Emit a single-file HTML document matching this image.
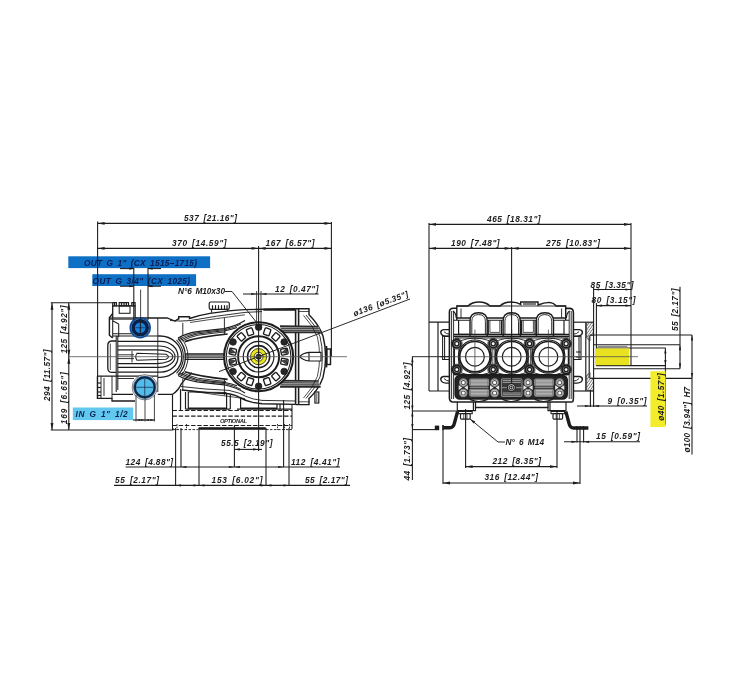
<!DOCTYPE html>
<html><head><meta charset="utf-8"><title>CX pump dimensions</title>
<style>
html,body{margin:0;padding:0;background:#fff;}
body{width:750px;height:700px;overflow:hidden;}
svg{display:block;filter:blur(0.45px);}
svg text{font-family:"Liberation Sans",sans-serif;font-style:italic;word-spacing:1.6px;}
</style></head><body>
<svg width="750" height="700" viewBox="0 0 750 700">
<rect x="0" y="0" width="750" height="700" fill="#ffffff"/>
<line x1="172.5" y1="410.5" x2="292" y2="410.5" stroke="#1c1c1c" stroke-width="1.17" stroke-dasharray="4.4 1.8"/>
<line x1="172.5" y1="416.1" x2="292" y2="416.1" stroke="#1c1c1c" stroke-width="1.17" stroke-dasharray="4.4 1.8"/>
<line x1="172.5" y1="425.5" x2="292" y2="425.5" stroke="#1c1c1c" stroke-width="1.17" stroke-dasharray="4.4 1.8"/>
<line x1="172.5" y1="394" x2="172.5" y2="430" stroke="#1c1c1c" stroke-width="1.04" />
<line x1="292" y1="404" x2="292" y2="429" stroke="#1c1c1c" stroke-width="1.04" />
<rect x="198.6" y="427.2" width="67.2" height="2.6" rx="0" stroke="none" stroke-width="0.00" fill="#1c1c1c" />
<line x1="177" y1="424" x2="177" y2="430" stroke="#1c1c1c" stroke-width="0.91" stroke-dasharray="1.6 1"/>
<line x1="186.5" y1="424" x2="186.5" y2="430" stroke="#1c1c1c" stroke-width="0.91" stroke-dasharray="1.6 1"/>
<line x1="277.5" y1="424" x2="277.5" y2="430" stroke="#1c1c1c" stroke-width="0.91" stroke-dasharray="1.6 1"/>
<line x1="284.5" y1="424" x2="284.5" y2="430" stroke="#1c1c1c" stroke-width="0.91" stroke-dasharray="1.6 1"/>
<line x1="289.5" y1="424" x2="289.5" y2="430" stroke="#1c1c1c" stroke-width="0.91" stroke-dasharray="1.6 1"/>
<line x1="172.5" y1="429.6" x2="198" y2="429.6" stroke="#1c1c1c" stroke-width="0.91" stroke-dasharray="2.5 1.5"/>
<line x1="266" y1="429.6" x2="292" y2="429.6" stroke="#1c1c1c" stroke-width="0.91" stroke-dasharray="2.5 1.5"/>
<text x="220" y="422.8" font-size="5.8" fill="#1c1c1c" text-anchor="start" font-weight="bold" textLength="27" lengthAdjust="spacing" >OPTIONAL</text>
<path d="M172.5,394 L172.5,410.5 M180.5,389.5 L180.5,410.5 M185.5,392 L185.5,409 M188.3,392 L188.3,408 L226.6,408 L226.6,394 M185.5,409.2 L230.3,409.2 M230.3,395 L230.3,409 M240.6,398 L240.6,408 L277,408 L277,404 M237,409.2 L292,409.2 M280,404 L280,409" stroke="#1c1c1c" stroke-width="1.17" fill="none" />
<path d="M188.3,392 L226.6,392.5" stroke="#1c1c1c" stroke-width="0.91" fill="none" />
<path d="M178.7,319.5 L178.7,316.8 L189.5,316.8 L189.5,318.5 Q200,315 210,313.4 Q230,310.4 245,309.6 L295.6,308.8" stroke="#1c1c1c" stroke-width="1.43" fill="none" />
<path d="M170,320.5 Q180,321.6 190,320.6 Q215,316 245,312.4 L262,311.6" stroke="#1c1c1c" stroke-width="0.91" fill="none" />
<path d="M181.8,390 Q205,393 228.5,393.7 Q236,395 239.7,397.5 Q246,401 252.7,402.4 L262,403.8 L295.7,404.4" stroke="#1c1c1c" stroke-width="1.43" fill="none" />
<path d="M181,386.5 Q205,389.5 229,390.4 Q240,392.6 246,396.4 Q252,399.4 262,400.4 L295,401" stroke="#1c1c1c" stroke-width="0.91" fill="none" />
<path d="M178,338.0 Q186,333.5 197,331.6 Q215,329.6 224,328.6 Q236,326.0 245,320.5" stroke="#1c1c1c" stroke-width="1.17" fill="none" />
<path d="M180,340.4 Q188,336.0 197,334.0 Q215,331.8 225,330.8 Q232,329.6 237,327.6" stroke="#1c1c1c" stroke-width="1.04" fill="none" />
<path d="M184.8,341.6 Q200,336.6 227.6,334.0" stroke="#1c1c1c" stroke-width="1.69" fill="none" />
<path d="M179,339.2 Q187,334.8 197,332.8 Q215,330.7 225,329.7 Q234,328.0 241,324.0" stroke="#1c1c1c" stroke-width="0.91" fill="none" />
<path d="M182,341.0 Q190,337.0 198,335.2 Q215,332.9 226,331.9" stroke="#1c1c1c" stroke-width="0.91" fill="none" />
<path d="M182.8,322.8 L182.8,335.0 M224.4,318.0 L224.4,335.0" stroke="#1c1c1c" stroke-width="0.91" fill="none" />
<path d="M190,322.5 Q215,318.6 245,314.8" stroke="#1c1c1c" stroke-width="0.78" fill="none" />
<path d="M178,375.4 Q186,379.9 197,381.79999999999995 Q215,383.79999999999995 224,384.79999999999995 Q236,387.4 245,392.9" stroke="#1c1c1c" stroke-width="1.17" fill="none" />
<path d="M180,373.0 Q188,377.4 197,379.4 Q215,381.59999999999997 225,382.59999999999997 Q232,383.79999999999995 237,385.79999999999995" stroke="#1c1c1c" stroke-width="1.04" fill="none" />
<path d="M184.8,371.79999999999995 Q200,376.79999999999995 227.6,379.4" stroke="#1c1c1c" stroke-width="1.69" fill="none" />
<path d="M179,374.2 Q187,378.59999999999997 197,380.59999999999997 Q215,382.7 225,383.7 Q234,385.4 241,389.4" stroke="#1c1c1c" stroke-width="0.91" fill="none" />
<path d="M182,372.4 Q190,376.4 198,378.2 Q215,380.5 226,381.5" stroke="#1c1c1c" stroke-width="0.91" fill="none" />
<path d="M182.8,390.59999999999997 L182.8,378.4 M224.4,395.4 L224.4,378.4" stroke="#1c1c1c" stroke-width="0.91" fill="none" />
<path d="M190,390.9 Q215,394.79999999999995 245,398.59999999999997" stroke="#1c1c1c" stroke-width="0.78" fill="none" />
<line x1="184.8" y1="354" x2="224" y2="354" stroke="#1c1c1c" stroke-width="1.43" />
<line x1="184.8" y1="359.4" x2="224" y2="359.4" stroke="#1c1c1c" stroke-width="1.43" />
<line x1="184.8" y1="355.8" x2="224" y2="355.8" stroke="#1c1c1c" stroke-width="0.78" />
<line x1="184.8" y1="357.6" x2="224" y2="357.6" stroke="#1c1c1c" stroke-width="0.78" />
<path d="M178,338.5 Q185.4,346 185.4,356.7 Q185.4,367.4 178,374.9" stroke="#1c1c1c" stroke-width="1.30" fill="none" />
<path d="M176.5,340 Q183.4,347 183.4,356.7 Q183.4,366.4 176.5,373.4" stroke="#1c1c1c" stroke-width="1.04" fill="none" />
<path d="M180.5,337 Q188,346 188,356.7 Q188,367.4 180.5,376.4" stroke="#1c1c1c" stroke-width="0.91" fill="none" />
<path d="M295.6,308.8 L295.6,404.6 M298.6,309 L298.6,404.6" stroke="#1c1c1c" stroke-width="1.56" fill="none" />
<path d="M295.6,308.8 L309,308.8 L309,314.8 Q318.5,324 323,336 Q325.6,346 325.6,356.7 Q325.6,367.4 323,377.4 Q318.5,389.6 309,398.6 L309,404.6 L295.6,404.6" stroke="#1c1c1c" stroke-width="1.43" fill="none" />
<path d="M306,315 Q315.5,325 320,336.6 Q322.4,346 322.4,356.7 Q322.4,367.4 320,376.8 Q315.5,388.4 306,398.4" stroke="#1c1c1c" stroke-width="0.91" fill="none" />
<path d="M298.6,311.5 L309,311.5 M298.6,401.8 L309,401.8" stroke="#1c1c1c" stroke-width="0.78" fill="none" />
<polygon points="280,326.2 318.6,326.59999999999997 320.6,332.4 280,332.4" fill="#b5b5b5"/>
<path d="M280,326.2 L318.6,326.59999999999997 M280,332.4 L320.6,332.4" stroke="#2a2a2a" stroke-width="1.69" fill="none" />
<path d="M281,328.3 L318.8,328.59999999999997 M281,330.4 L319.6,330.5" stroke="#4a4a4a" stroke-width="1.17" fill="none" />
<polygon points="280,380.6 318.6,381.0 320.6,386.8 280,386.8" fill="#b5b5b5"/>
<path d="M280,380.6 L318.6,381.0 M280,386.8 L320.6,386.8" stroke="#2a2a2a" stroke-width="1.69" fill="none" />
<path d="M281,382.70000000000005 L318.8,383.0 M281,384.8 L319.6,384.90000000000003" stroke="#4a4a4a" stroke-width="1.17" fill="none" />
<path d="M303.5,315.4 Q313,325.6 317.4,337 Q319.6,346.4 319.6,356.7 Q319.6,367 317.4,376.4 Q313,388 303.5,398" stroke="#1c1c1c" stroke-width="0.78" fill="none" />
<rect x="314.9" y="392" width="3.9" height="11" rx="0" stroke="#1c1c1c" stroke-width="1.17" fill="#fff" />
<line x1="316.8" y1="393" x2="316.8" y2="402" stroke="#1c1c1c" stroke-width="0.78" />
<rect x="326.8" y="349" width="3.7" height="15.5" rx="0" stroke="#1c1c1c" stroke-width="1.43" fill="#fff" />
<line x1="326.4" y1="346" x2="326.4" y2="367.4" stroke="#1c1c1c" stroke-width="1.82" />
<path d="M299.6,356.7 Q303,353 309,352.4 L321,352.4 L321,361 L309,361 Q303,360.4 299.6,356.7 Z M309,352.4 L309,361" stroke="#1c1c1c" stroke-width="1.17" fill="#fff" />
<path d="M263.4,309.6 L295.6,309.6" stroke="#1c1c1c" stroke-width="2.08" fill="none" />
<rect x="209.2" y="302" width="20.1" height="7.4" rx="1.6" stroke="#1c1c1c" stroke-width="1.17" fill="#fff" />
<line x1="212.5" y1="305.2" x2="212.5" y2="309.2" stroke="#1c1c1c" stroke-width="1.17" />
<line x1="215.5" y1="305.2" x2="215.5" y2="309.2" stroke="#1c1c1c" stroke-width="1.17" />
<line x1="218.5" y1="305.2" x2="218.5" y2="309.2" stroke="#1c1c1c" stroke-width="1.17" />
<line x1="221.5" y1="305.2" x2="221.5" y2="309.2" stroke="#1c1c1c" stroke-width="1.17" />
<line x1="224.5" y1="305.2" x2="224.5" y2="309.2" stroke="#1c1c1c" stroke-width="1.17" />
<line x1="227" y1="305.2" x2="227" y2="309.2" stroke="#1c1c1c" stroke-width="1.17" />
<path d="M211.6,309.4 L211.6,312.8 M227.7,309.4 L227.7,311.2" stroke="#1c1c1c" stroke-width="1.04" fill="none" />
<circle cx="258.6" cy="356.7" r="34.5" stroke="#1c1c1c" stroke-width="2.08" fill="#fff" />
<circle cx="258.6" cy="356.7" r="32.3" stroke="#1c1c1c" stroke-width="1.04" fill="none" />
<circle cx="258.6" cy="356.7" r="20.5" stroke="#1c1c1c" stroke-width="1.95" fill="none" />
<circle cx="258.6" cy="356.7" r="15.3" stroke="#1c1c1c" stroke-width="1.17" fill="none" />
<circle cx="258.6" cy="356.7" r="11.1" stroke="#1c1c1c" stroke-width="1.56" fill="none" />
<rect x="-3.0" y="-3.4" width="6.0" height="6.8" rx="1" fill="#fff" stroke="#1c1c1c" stroke-width="1.35" transform="translate(284.42 361.72) rotate(101.0)"/>
<path d="M2.4,-2.6 L-2.0,-2.2 L-0.4,2.8 Z" fill="#444" stroke="#1c1c1c" stroke-width="0.7" transform="translate(284.42 361.72) rotate(101.0)"/>
<rect x="-3.0" y="-3.4" width="6.0" height="6.8" rx="1" fill="#fff" stroke="#1c1c1c" stroke-width="1.35" transform="translate(284.42 351.68) rotate(79.0)"/>
<path d="M-2.4,-2.6 L2.0,-2.2 L0.4,2.8 Z" fill="#444" stroke="#1c1c1c" stroke-width="0.7" transform="translate(284.42 351.68) rotate(79.0)"/>
<rect x="-3.0" y="-3.4" width="6.0" height="6.8" rx="1" fill="#fff" stroke="#1c1c1c" stroke-width="1.35" transform="translate(275.85 336.85) rotate(41.0)"/>
<rect x="-3.0" y="-3.4" width="6.0" height="6.8" rx="1" fill="#fff" stroke="#1c1c1c" stroke-width="1.35" transform="translate(267.16 331.83) rotate(19.0)"/>
<rect x="-3.0" y="-3.4" width="6.0" height="6.8" rx="1" fill="#fff" stroke="#1c1c1c" stroke-width="1.35" transform="translate(250.04 331.83) rotate(-19.0)"/>
<rect x="-3.0" y="-3.4" width="6.0" height="6.8" rx="1" fill="#fff" stroke="#1c1c1c" stroke-width="1.35" transform="translate(241.35 336.85) rotate(-41.0)"/>
<rect x="-3.0" y="-3.4" width="6.0" height="6.8" rx="1" fill="#fff" stroke="#1c1c1c" stroke-width="1.35" transform="translate(232.78 351.68) rotate(-79.0)"/>
<path d="M2.4,-2.6 L-2.0,-2.2 L-0.4,2.8 Z" fill="#444" stroke="#1c1c1c" stroke-width="0.7" transform="translate(232.78 351.68) rotate(-79.0)"/>
<rect x="-3.0" y="-3.4" width="6.0" height="6.8" rx="1" fill="#fff" stroke="#1c1c1c" stroke-width="1.35" transform="translate(232.78 361.72) rotate(-101.0)"/>
<path d="M-2.4,-2.6 L2.0,-2.2 L0.4,2.8 Z" fill="#444" stroke="#1c1c1c" stroke-width="0.7" transform="translate(232.78 361.72) rotate(-101.0)"/>
<rect x="-3.0" y="-3.4" width="6.0" height="6.8" rx="1" fill="#fff" stroke="#1c1c1c" stroke-width="1.35" transform="translate(241.35 376.55) rotate(-139.0)"/>
<rect x="-3.0" y="-3.4" width="6.0" height="6.8" rx="1" fill="#fff" stroke="#1c1c1c" stroke-width="1.35" transform="translate(250.04 381.57) rotate(-161.0)"/>
<rect x="-3.0" y="-3.4" width="6.0" height="6.8" rx="1" fill="#fff" stroke="#1c1c1c" stroke-width="1.35" transform="translate(267.16 381.57) rotate(-199.0)"/>
<rect x="-3.0" y="-3.4" width="6.0" height="6.8" rx="1" fill="#fff" stroke="#1c1c1c" stroke-width="1.35" transform="translate(275.85 376.55) rotate(-221.0)"/>
<circle cx="258.6" cy="327.2" r="3.3" stroke="#1c1c1c" stroke-width="0.78" fill="#262626" />
<circle cx="233.05" cy="341.95" r="3.3" stroke="#1c1c1c" stroke-width="0.78" fill="#262626" />
<circle cx="233.05" cy="371.45" r="3.3" stroke="#1c1c1c" stroke-width="0.78" fill="#262626" />
<circle cx="258.6" cy="386.2" r="3.3" stroke="#1c1c1c" stroke-width="0.78" fill="#262626" />
<circle cx="284.15" cy="371.45" r="3.3" stroke="#1c1c1c" stroke-width="0.78" fill="#262626" />
<circle cx="284.15" cy="341.95" r="3.3" stroke="#1c1c1c" stroke-width="0.78" fill="#262626" />
<circle cx="258.6" cy="356.7" r="6.2" stroke="#ebe71c" stroke-width="4.29" fill="none" />
<circle cx="258.6" cy="356.7" r="8.1" stroke="#1c1c1c" stroke-width="0.78" fill="none" />
<circle cx="258.6" cy="356.7" r="4.5" stroke="#1c1c1c" stroke-width="0.78" fill="none" />
<circle cx="258.6" cy="356.7" r="2.6" stroke="#1c1c1c" stroke-width="0.78" fill="#3a3a20" />
<path d="M112.7,318 L112.7,305.8 L135.1,305.8 L135.1,318" stroke="#1c1c1c" stroke-width="1.30" fill="none" />
<rect x="112.7" y="302.6" width="3.700000000000003" height="3.2" rx="0" stroke="#1c1c1c" stroke-width="1.17" fill="#fff" />
<rect x="119.2" y="302.6" width="9.299999999999997" height="3.2" rx="0" stroke="#1c1c1c" stroke-width="1.17" fill="#fff" />
<rect x="131.8" y="302.6" width="3.299999999999983" height="3.2" rx="0" stroke="#1c1c1c" stroke-width="1.17" fill="#fff" />
<line x1="114.5" y1="302.6" x2="114.5" y2="305.8" stroke="#1c1c1c" stroke-width="1.30" />
<line x1="121.5" y1="302.6" x2="121.5" y2="305.8" stroke="#1c1c1c" stroke-width="1.30" />
<line x1="124" y1="302.6" x2="124" y2="305.8" stroke="#1c1c1c" stroke-width="1.30" />
<line x1="126.3" y1="302.6" x2="126.3" y2="305.8" stroke="#1c1c1c" stroke-width="1.30" />
<line x1="133.4" y1="302.6" x2="133.4" y2="305.8" stroke="#1c1c1c" stroke-width="1.30" />
<rect x="119.2" y="305.8" width="10.8" height="7.5" rx="0" stroke="#1c1c1c" stroke-width="1.04" fill="none" />
<line x1="109.4" y1="318" x2="137" y2="318" stroke="#1c1c1c" stroke-width="1.17" />
<line x1="110" y1="319.2" x2="137" y2="319.2" stroke="#1c1c1c" stroke-width="0.91" />
<path d="M112.7,313.5 L109.4,317.8 L109.4,335.2 L112.7,338" stroke="#1c1c1c" stroke-width="1.43" fill="none" />
<path d="M112.7,318 L112.7,337.5 M118.7,324 L118.7,337 M112.7,320.8 L118.7,324" stroke="#1c1c1c" stroke-width="1.04" fill="none" />
<path d="M112.7,333.8 L135,333.8 M112.7,336.1 L157.8,336.1" stroke="#1c1c1c" stroke-width="1.04" fill="none" />
<path d="M135.6,318 L167,318 L175,321 L179,318.4" stroke="#1c1c1c" stroke-width="1.30" fill="none" />
<path d="M157.8,318 L157.8,376" stroke="#1c1c1c" stroke-width="0.91" fill="none" />
<path d="M116.2,336 L116.2,392 M117.8,336 L117.8,390" stroke="#1c1c1c" stroke-width="1.04" fill="none" />
<path d="M116.2,341 L111.5,341 Q107.8,341.4 107.8,345.5 L107.8,368 Q107.8,372 111.5,372.4 L116.2,372.4" stroke="#1c1c1c" stroke-width="1.30" fill="none" />
<path d="M110.3,343.5 L110.3,370" stroke="#1c1c1c" stroke-width="0.78" fill="none" />
<path d="M157.8,336 L160,336 A21.80000000000001,20.69999999999999 0 0 1 160,377.4 L157.8,377.4" stroke="#1c1c1c" stroke-width="1.30" fill="none" />
<path d="M117.8,341.3 L161,341.3 A17,15.400000000000006 0 0 1 161,372.1 L117.8,372.1" stroke="#1c1c1c" stroke-width="1.30" fill="none" />
<path d="M117.8,346 L159,346 A16,10.699999999999989 0 0 1 159,367.4 L117.8,367.4" stroke="#1c1c1c" stroke-width="1.17" fill="none" />
<path d="M117.8,349.8 L157,349.8 A15.800000000000011,6.900000000000006 0 0 1 157,363.6 L117.8,363.6" stroke="#1c1c1c" stroke-width="1.17" fill="none" />
<path d="M137,353.2 L166,354.2 Q171,356.7 166,359.2 L137,360.2 Q134.4,356.7 137,353.2 Z" stroke="#1c1c1c" stroke-width="1.04" fill="none" />
<path d="M117.8,354.8 L134,354.8 M117.8,358.6 L134,358.6 M132,351 L132,362.4" stroke="#1c1c1c" stroke-width="0.91" fill="none" />
<path d="M97.4,376.2 L157.8,376.2" stroke="#1c1c1c" stroke-width="1.17" fill="none" />
<path d="M97.4,376.2 L97.4,398.3 L112,398.3 L112,401 L135,401" stroke="#1c1c1c" stroke-width="1.30" fill="none" />
<path d="M112,376.2 L112,398.3 M101,376.2 L101,398.3 M104,378 L104,396" stroke="#1c1c1c" stroke-width="0.91" fill="none" />
<line x1="97.4" y1="383" x2="101" y2="383" stroke="#1c1c1c" stroke-width="1.17" />
<line x1="97.4" y1="387.5" x2="101" y2="387.5" stroke="#1c1c1c" stroke-width="1.17" />
<line x1="97.4" y1="392" x2="101" y2="392" stroke="#1c1c1c" stroke-width="1.17" />
<line x1="97.4" y1="395.5" x2="101" y2="395.5" stroke="#1c1c1c" stroke-width="1.17" />
<path d="M112,394.3 L133,394.3 M157.8,394.3 L172.5,394.3" stroke="#1c1c1c" stroke-width="1.17" fill="none" />
<path d="M157.8,376.2 L157.8,392 M117.8,378.5 L134,378.5" stroke="#1c1c1c" stroke-width="0.91" fill="none" />
<path d="M192,372.8 Q186,378 181.5,383.6 Q178,391 172.5,394.3" stroke="#1c1c1c" stroke-width="1.30" fill="none" />
<path d="M180.6,389 L180.6,409" stroke="#1c1c1c" stroke-width="0.91" fill="none" />
<path d="M429,322.2 L450,322.2 M429,391 L450,391 M438,322.2 L438,391" stroke="#1c1c1c" stroke-width="1.17" fill="none" />
<path d="M452,402 Q449.4,401 449.4,398 L449.4,312 Q449.4,308.2 453.4,308.2 L456.8,308.2" stroke="#1c1c1c" stroke-width="1.56" fill="none" />
<path d="M572.5,402 Q573.4,401 573.4,398 L573.4,312.4 Q573.4,308.4 569.4,308.4 L565.7,308.4" stroke="#1c1c1c" stroke-width="1.56" fill="none" />
<path d="M451.6,311 L451.6,399 M453.6,311 L453.6,399 M571.2,311 L571.2,399 M569.2,311 L569.2,399" stroke="#1c1c1c" stroke-width="0.91" fill="none" />
<path d="M456.8,320 L456.8,306 L468,306 Q472,302 479,302 Q486,302 490,306 L500,306 Q504,302 511,302 Q517,302 520.7,304.4 L520.7,302 L538,302 L538,305 Q544,302.4 549,302.4 Q554,303 556.3,306 L565.7,306 L565.7,320" stroke="#1c1c1c" stroke-width="1.43" fill="none" />
<path d="M456.8,306 L565.7,306" stroke="#1c1c1c" stroke-width="0.91" fill="none" />
<path d="M523,304 L536,304" stroke="#1c1c1c" stroke-width="1.17" fill="none" />
<line x1="456.8" y1="318" x2="565.7" y2="318" stroke="#1c1c1c" stroke-width="1.69" />
<line x1="453.6" y1="320.2" x2="569.2" y2="320.2" stroke="#1c1c1c" stroke-width="1.04" />
<line x1="461" y1="308.5" x2="461" y2="318" stroke="#1c1c1c" stroke-width="0.91" />
<line x1="561.6" y1="308.5" x2="561.6" y2="318" stroke="#1c1c1c" stroke-width="0.91" />
<path d="M453,311 Q456,313 456.2,318 M569.6,311 Q566.6,313 566.4,318" stroke="#1c1c1c" stroke-width="1.17" fill="none" />
<path d="M488.3,320.2 L488.3,334.3 L501.4,334.3 L501.4,320.2" stroke="#1c1c1c" stroke-width="1.17" fill="none" />
<path d="M489.90000000000003,320.2 L489.90000000000003,332.4 L499.79999999999995,332.4 L499.79999999999995,320.2" stroke="#1c1c1c" stroke-width="0.78" fill="none" />
<path d="M521.6,320.2 L521.6,334.3 L535,334.3 L535,320.2" stroke="#1c1c1c" stroke-width="1.17" fill="none" />
<path d="M523.2,320.2 L523.2,332.4 L533.4,332.4 L533.4,320.2" stroke="#1c1c1c" stroke-width="0.78" fill="none" />
<path d="M458.6,320.2 L458.6,334.3 L468.8,334.3 M554.4,334.3 L564,334.3 L564,320.2" stroke="#1c1c1c" stroke-width="1.17" fill="none" />
<path d="M470.0,336.3 L470.0,321 Q470.0,312.8 478.6,312.8 Q487.20000000000005,312.8 487.20000000000005,321 L487.20000000000005,336.3" stroke="#1c1c1c" stroke-width="1.43" fill="#fff" />
<path d="M471.8,334 L471.8,321.4 Q471.8,314.6 478.6,314.6 Q485.40000000000003,314.6 485.40000000000003,321.4 L485.40000000000003,334" stroke="#1c1c1c" stroke-width="0.91" fill="none" />
<path d="M503.09999999999997,336.3 L503.09999999999997,321 Q503.09999999999997,312.8 511.7,312.8 Q520.3,312.8 520.3,321 L520.3,336.3" stroke="#1c1c1c" stroke-width="1.43" fill="#fff" />
<path d="M504.9,334 L504.9,321.4 Q504.9,314.6 511.7,314.6 Q518.5,314.6 518.5,321.4 L518.5,334" stroke="#1c1c1c" stroke-width="0.91" fill="none" />
<path d="M536.3,336.3 L536.3,321 Q536.3,312.8 544.9,312.8 Q553.5,312.8 553.5,321 L553.5,336.3" stroke="#1c1c1c" stroke-width="1.43" fill="#fff" />
<path d="M538.1,334 L538.1,321.4 Q538.1,314.6 544.9,314.6 Q551.6999999999999,314.6 551.6999999999999,321.4 L551.6999999999999,334" stroke="#1c1c1c" stroke-width="0.91" fill="none" />
<line x1="453.6" y1="334.3" x2="569.2" y2="334.3" stroke="#1c1c1c" stroke-width="1.30" />
<line x1="453.6" y1="336.4" x2="569.2" y2="336.4" stroke="#1c1c1c" stroke-width="1.69" />
<line x1="455" y1="338" x2="568" y2="338" stroke="#1c1c1c" stroke-width="0.91" />
<circle cx="474.9" cy="356.7" r="16.6" stroke="#1c1c1c" stroke-width="1.04" fill="none" />
<circle cx="474.9" cy="356.7" r="15.2" stroke="#1c1c1c" stroke-width="1.69" fill="#fff" />
<circle cx="474.9" cy="356.7" r="9.4" stroke="#1c1c1c" stroke-width="1.17" fill="none" />
<line x1="474.9" y1="329.6" x2="474.9" y2="371.5" stroke="#444" stroke-width="0.78" />
<circle cx="511.7" cy="356.7" r="16.6" stroke="#1c1c1c" stroke-width="1.04" fill="none" />
<circle cx="511.7" cy="356.7" r="15.2" stroke="#1c1c1c" stroke-width="1.69" fill="#fff" />
<circle cx="511.7" cy="356.7" r="9.4" stroke="#1c1c1c" stroke-width="1.17" fill="none" />
<line x1="511.7" y1="329.6" x2="511.7" y2="371.5" stroke="#444" stroke-width="0.78" />
<circle cx="548.4" cy="356.7" r="16.6" stroke="#1c1c1c" stroke-width="1.04" fill="none" />
<circle cx="548.4" cy="356.7" r="15.2" stroke="#1c1c1c" stroke-width="1.69" fill="#fff" />
<circle cx="548.4" cy="356.7" r="9.4" stroke="#1c1c1c" stroke-width="1.17" fill="none" />
<line x1="548.4" y1="329.6" x2="548.4" y2="371.5" stroke="#444" stroke-width="0.78" />
<circle cx="456.8" cy="343.7" r="5.4" stroke="#1c1c1c" stroke-width="0.78" fill="none" />
<circle cx="456.8" cy="343.7" r="4.1" stroke="#1c1c1c" stroke-width="1.82" fill="#a8a8a8" />
<circle cx="456.8" cy="343.7" r="2.1" stroke="#1c1c1c" stroke-width="1.30" fill="#fff" />
<circle cx="456.8" cy="369.6" r="5.4" stroke="#1c1c1c" stroke-width="0.78" fill="none" />
<circle cx="456.8" cy="369.6" r="4.1" stroke="#1c1c1c" stroke-width="1.82" fill="#a8a8a8" />
<circle cx="456.8" cy="369.6" r="2.1" stroke="#1c1c1c" stroke-width="1.30" fill="#fff" />
<circle cx="493.2" cy="343.7" r="5.4" stroke="#1c1c1c" stroke-width="0.78" fill="none" />
<circle cx="493.2" cy="343.7" r="4.1" stroke="#1c1c1c" stroke-width="1.82" fill="#a8a8a8" />
<circle cx="493.2" cy="343.7" r="2.1" stroke="#1c1c1c" stroke-width="1.30" fill="#fff" />
<circle cx="493.2" cy="369.6" r="5.4" stroke="#1c1c1c" stroke-width="0.78" fill="none" />
<circle cx="493.2" cy="369.6" r="4.1" stroke="#1c1c1c" stroke-width="1.82" fill="#a8a8a8" />
<circle cx="493.2" cy="369.6" r="2.1" stroke="#1c1c1c" stroke-width="1.30" fill="#fff" />
<circle cx="529.6" cy="343.7" r="5.4" stroke="#1c1c1c" stroke-width="0.78" fill="none" />
<circle cx="529.6" cy="343.7" r="4.1" stroke="#1c1c1c" stroke-width="1.82" fill="#a8a8a8" />
<circle cx="529.6" cy="343.7" r="2.1" stroke="#1c1c1c" stroke-width="1.30" fill="#fff" />
<circle cx="529.6" cy="369.6" r="5.4" stroke="#1c1c1c" stroke-width="0.78" fill="none" />
<circle cx="529.6" cy="369.6" r="4.1" stroke="#1c1c1c" stroke-width="1.82" fill="#a8a8a8" />
<circle cx="529.6" cy="369.6" r="2.1" stroke="#1c1c1c" stroke-width="1.30" fill="#fff" />
<circle cx="566.1" cy="343.7" r="5.4" stroke="#1c1c1c" stroke-width="0.78" fill="none" />
<circle cx="566.1" cy="343.7" r="4.1" stroke="#1c1c1c" stroke-width="1.82" fill="#a8a8a8" />
<circle cx="566.1" cy="343.7" r="2.1" stroke="#1c1c1c" stroke-width="1.30" fill="#fff" />
<circle cx="566.1" cy="369.6" r="5.4" stroke="#1c1c1c" stroke-width="0.78" fill="none" />
<circle cx="566.1" cy="369.6" r="4.1" stroke="#1c1c1c" stroke-width="1.82" fill="#a8a8a8" />
<circle cx="566.1" cy="369.6" r="2.1" stroke="#1c1c1c" stroke-width="1.30" fill="#fff" />
<path d="M490.59999999999997,348.6 L490.59999999999997,364.8 M495.8,348.6 L495.8,364.8" stroke="#1c1c1c" stroke-width="1.30" fill="none" />
<path d="M492.2,349 L492.2,364.4 M494.2,349 L494.2,364.4" stroke="#1c1c1c" stroke-width="0.78" fill="none" />
<path d="M527.0,348.6 L527.0,364.8 M532.2,348.6 L532.2,364.8" stroke="#1c1c1c" stroke-width="1.30" fill="none" />
<path d="M528.6,349 L528.6,364.4 M530.6,349 L530.6,364.4" stroke="#1c1c1c" stroke-width="0.78" fill="none" />
<path d="M454.4,348.6 L454.4,364.8 M459,348.6 L459,364.8 M564,348.6 L564,364.8 M568.4,348.6 L568.4,364.8" stroke="#1c1c1c" stroke-width="1.30" fill="none" />
<path d="M460.8,340.6 Q474.9,335.6 489.2,340.6" stroke="#1c1c1c" stroke-width="0.91" fill="none" />
<path d="M460.8,372.8 Q474.9,377.8 489.2,372.8" stroke="#1c1c1c" stroke-width="0.91" fill="none" />
<path d="M497.2,340.6 Q511.7,335.6 525.6,340.6" stroke="#1c1c1c" stroke-width="0.91" fill="none" />
<path d="M497.2,372.8 Q511.7,377.8 525.6,372.8" stroke="#1c1c1c" stroke-width="0.91" fill="none" />
<path d="M533.6,340.6 Q548.4,335.6 562.1,340.6" stroke="#1c1c1c" stroke-width="0.91" fill="none" />
<path d="M533.6,372.8 Q548.4,377.8 562.1,372.8" stroke="#1c1c1c" stroke-width="0.91" fill="none" />
<line x1="453.6" y1="374.6" x2="569.2" y2="374.6" stroke="#1c1c1c" stroke-width="1.17" />
<rect x="455.2" y="375.6" width="112" height="23.4" rx="4.5" stroke="#1c1c1c" stroke-width="1.56" fill="#242424" />
<polygon points="458.7,385.2 458.7,390 462.3,387.6" fill="#e8e8e8"/>
<polygon points="467.90000000000003,385.2 467.90000000000003,390 464.3,387.6" fill="#e8e8e8"/>
<circle cx="463.3" cy="382.6" r="3.6" stroke="#8a8a8a" stroke-width="1.30" fill="#fff" />
<circle cx="463.3" cy="382.6" r="2.1" stroke="#555" stroke-width="1.04" fill="#fff" />
<circle cx="463.3" cy="393" r="3.6" stroke="#8a8a8a" stroke-width="1.30" fill="#fff" />
<circle cx="463.3" cy="393" r="2.1" stroke="#555" stroke-width="1.04" fill="#fff" />
<polygon points="490.0,385.2 490.0,390 493.6,387.6" fill="#e8e8e8"/>
<polygon points="499.20000000000005,385.2 499.20000000000005,390 495.6,387.6" fill="#e8e8e8"/>
<circle cx="494.6" cy="382.6" r="3.6" stroke="#8a8a8a" stroke-width="1.30" fill="#fff" />
<circle cx="494.6" cy="382.6" r="2.1" stroke="#555" stroke-width="1.04" fill="#fff" />
<circle cx="494.6" cy="393" r="3.6" stroke="#8a8a8a" stroke-width="1.30" fill="#fff" />
<circle cx="494.6" cy="393" r="2.1" stroke="#555" stroke-width="1.04" fill="#fff" />
<polygon points="523.4,385.2 523.4,390 527,387.6" fill="#e8e8e8"/>
<polygon points="532.6,385.2 532.6,390 529,387.6" fill="#e8e8e8"/>
<circle cx="528" cy="382.6" r="3.6" stroke="#8a8a8a" stroke-width="1.30" fill="#fff" />
<circle cx="528" cy="382.6" r="2.1" stroke="#555" stroke-width="1.04" fill="#fff" />
<circle cx="528" cy="393" r="3.6" stroke="#8a8a8a" stroke-width="1.30" fill="#fff" />
<circle cx="528" cy="393" r="2.1" stroke="#555" stroke-width="1.04" fill="#fff" />
<polygon points="555.1,385.2 555.1,390 558.7,387.6" fill="#e8e8e8"/>
<polygon points="564.3000000000001,385.2 564.3000000000001,390 560.7,387.6" fill="#e8e8e8"/>
<circle cx="559.7" cy="382.6" r="3.6" stroke="#8a8a8a" stroke-width="1.30" fill="#fff" />
<circle cx="559.7" cy="382.6" r="2.1" stroke="#555" stroke-width="1.04" fill="#fff" />
<circle cx="559.7" cy="393" r="3.6" stroke="#8a8a8a" stroke-width="1.30" fill="#fff" />
<circle cx="559.7" cy="393" r="2.1" stroke="#555" stroke-width="1.04" fill="#fff" />
<rect x="469.7" y="379" width="18.900000000000034" height="7" rx="1.4" stroke="#8c8c8c" stroke-width="1.04" fill="#777" />
<line x1="470.9" y1="380.3" x2="487.40000000000003" y2="380.3" stroke="#d0d0d0" stroke-width="0.72" />
<line x1="470.9" y1="381.75" x2="487.40000000000003" y2="381.75" stroke="#d0d0d0" stroke-width="0.72" />
<line x1="470.9" y1="383.2" x2="487.40000000000003" y2="383.2" stroke="#d0d0d0" stroke-width="0.72" />
<line x1="470.9" y1="384.65" x2="487.40000000000003" y2="384.65" stroke="#d0d0d0" stroke-width="0.72" />
<rect x="469.7" y="389.2" width="18.900000000000034" height="7.0" rx="1.4" stroke="#8c8c8c" stroke-width="1.04" fill="#777" />
<line x1="470.9" y1="390.5" x2="487.40000000000003" y2="390.5" stroke="#d0d0d0" stroke-width="0.72" />
<line x1="470.9" y1="391.95" x2="487.40000000000003" y2="391.95" stroke="#d0d0d0" stroke-width="0.72" />
<line x1="470.9" y1="393.4" x2="487.40000000000003" y2="393.4" stroke="#d0d0d0" stroke-width="0.72" />
<line x1="470.9" y1="394.84999999999997" x2="487.40000000000003" y2="394.84999999999997" stroke="#d0d0d0" stroke-width="0.72" />
<line x1="469.7" y1="387.6" x2="488.6" y2="387.6" stroke="#999" stroke-width="0.91" />
<rect x="534.6" y="379" width="18.799999999999955" height="7" rx="1.4" stroke="#8c8c8c" stroke-width="1.04" fill="#777" />
<line x1="535.8000000000001" y1="380.3" x2="552.1999999999999" y2="380.3" stroke="#d0d0d0" stroke-width="0.72" />
<line x1="535.8000000000001" y1="381.75" x2="552.1999999999999" y2="381.75" stroke="#d0d0d0" stroke-width="0.72" />
<line x1="535.8000000000001" y1="383.2" x2="552.1999999999999" y2="383.2" stroke="#d0d0d0" stroke-width="0.72" />
<line x1="535.8000000000001" y1="384.65" x2="552.1999999999999" y2="384.65" stroke="#d0d0d0" stroke-width="0.72" />
<rect x="534.6" y="389.2" width="18.799999999999955" height="7.0" rx="1.4" stroke="#8c8c8c" stroke-width="1.04" fill="#777" />
<line x1="535.8000000000001" y1="390.5" x2="552.1999999999999" y2="390.5" stroke="#d0d0d0" stroke-width="0.72" />
<line x1="535.8000000000001" y1="391.95" x2="552.1999999999999" y2="391.95" stroke="#d0d0d0" stroke-width="0.72" />
<line x1="535.8000000000001" y1="393.4" x2="552.1999999999999" y2="393.4" stroke="#d0d0d0" stroke-width="0.72" />
<line x1="535.8000000000001" y1="394.84999999999997" x2="552.1999999999999" y2="394.84999999999997" stroke="#d0d0d0" stroke-width="0.72" />
<line x1="534.6" y1="387.6" x2="553.4" y2="387.6" stroke="#999" stroke-width="0.91" />
<rect x="501.4" y="378.8" width="20.6" height="17.6" rx="1.4" stroke="#8c8c8c" stroke-width="1.04" fill="#3a3a3a" />
<line x1="502.6" y1="380.6" x2="520.8" y2="380.6" stroke="#c8c8c8" stroke-width="0.72" />
<line x1="502.6" y1="382.4" x2="520.8" y2="382.4" stroke="#c8c8c8" stroke-width="0.72" />
<line x1="502.6" y1="393" x2="520.8" y2="393" stroke="#c8c8c8" stroke-width="0.72" />
<line x1="502.6" y1="394.8" x2="520.8" y2="394.8" stroke="#c8c8c8" stroke-width="0.72" />
<line x1="501.4" y1="387.6" x2="522" y2="387.6" stroke="#999" stroke-width="0.91" />
<circle cx="511.4" cy="387.6" r="3.9" stroke="#222" stroke-width="1.30" fill="#ddd" />
<circle cx="511.4" cy="387.6" r="2.2" stroke="#333" stroke-width="1.04" fill="#fff" />
<circle cx="511.4" cy="387.6" r="0.8" stroke="#1c1c1c" stroke-width="0.65" fill="#1c1c1c" />
<path d="M469.7,399.4 Q478.7,403.6 487.7,399.4" stroke="#1c1c1c" stroke-width="1.17" fill="none" />
<path d="M502.4,399.4 Q511.4,403.6 520.4,399.4" stroke="#1c1c1c" stroke-width="1.17" fill="none" />
<path d="M534.7,399.4 Q543.7,403.6 552.7,399.4" stroke="#1c1c1c" stroke-width="1.17" fill="none" />
<path d="M452,402 L572.5,402" stroke="#1c1c1c" stroke-width="1.43" fill="none" />
<path d="M475.5,402 L475.5,407.5 L548,407.5 L548,402" stroke="#1c1c1c" stroke-width="1.30" fill="none" />
<path d="M457.3,402 L457.3,410.7 M566,402 L566,410.7 M473.4,402 L473.4,410.7 M550,402 L550,410.7" stroke="#1c1c1c" stroke-width="1.17" fill="none" />
<path d="M457.3,410.7 L475.5,410.7 L475.5,407.5 M566,410.7 L548,410.7 L548,407.5" stroke="#1c1c1c" stroke-width="1.17" fill="none" />
<rect x="458.5" y="411.5" width="13.699999999999989" height="2.2" rx="0" stroke="#1c1c1c" stroke-width="1.04" fill="#fff" />
<rect x="460.5" y="413.7" width="9.699999999999989" height="5.4" rx="1" stroke="#1c1c1c" stroke-width="1.17" fill="#fff" />
<line x1="463.75" y1="413.7" x2="463.75" y2="419" stroke="#1c1c1c" stroke-width="0.78" />
<line x1="466.95000000000005" y1="413.7" x2="466.95000000000005" y2="419" stroke="#1c1c1c" stroke-width="0.78" />
<rect x="551" y="411.5" width="13.600000000000023" height="2.2" rx="0" stroke="#1c1c1c" stroke-width="1.04" fill="#fff" />
<rect x="553" y="413.7" width="9.600000000000023" height="5.4" rx="1" stroke="#1c1c1c" stroke-width="1.17" fill="#fff" />
<line x1="556.1999999999999" y1="413.7" x2="556.1999999999999" y2="419" stroke="#1c1c1c" stroke-width="0.78" />
<line x1="559.4" y1="413.7" x2="559.4" y2="419" stroke="#1c1c1c" stroke-width="0.78" />
<path d="M457.6,411.4 L454.4,423.2 Q453.6,427.6 449.6,427.8 L443,427.8" stroke="#1c1c1c" stroke-width="3.38" fill="none" />
<path d="M565.8,411.4 L569,423.2 Q569.8,427.8 573.8,428 L588.4,428" stroke="#1c1c1c" stroke-width="3.38" fill="none" />
<rect x="434.8" y="425.6" width="4.4" height="4.6" rx="0" stroke="none" stroke-width="0.00" fill="#1c1c1c" />
<line x1="443" y1="425" x2="443" y2="430.2" stroke="#1c1c1c" stroke-width="1.30" />
<path d="M577,426 L577,430 M583.6,426 L583.6,430" stroke="#1c1c1c" stroke-width="1.04" fill="none" />
<path d="M449.4,329.6 L443.5,329.6 Q440.6,330.0 440.8,332.6 Q441.4,336.0 446,336.20000000000005 L449.4,336.20000000000005" stroke="#1c1c1c" stroke-width="1.43" fill="none" />
<path d="M573.4,329.6 L579.4,329.6 Q582.6,330.0 582.4,332.6 Q581.8,336.0 577,336.20000000000005 L573.4,336.20000000000005" stroke="#1c1c1c" stroke-width="1.43" fill="none" />
<path d="M444,331.6 Q446,334.0 449.4,334.20000000000005 M579,331.6 Q577,334.0 573.4,334.20000000000005" stroke="#1c1c1c" stroke-width="0.91" fill="none" />
<path d="M449.4,376.5 L443.5,376.5 Q440.6,376.9 440.8,379.5 Q441.4,382.9 446,383.1 L449.4,383.1" stroke="#1c1c1c" stroke-width="1.43" fill="none" />
<path d="M573.4,376.5 L579.4,376.5 Q582.6,376.9 582.4,379.5 Q581.8,382.9 577,383.1 L573.4,383.1" stroke="#1c1c1c" stroke-width="1.43" fill="none" />
<path d="M444,378.5 Q446,380.9 449.4,381.1 M579,378.5 Q577,380.9 573.4,381.1" stroke="#1c1c1c" stroke-width="0.91" fill="none" />
<path d="M449.4,336.3 L442.6,336.3 L442.6,359.6 L449.4,359.6 M444.6,336.3 L444.6,359.6" stroke="#1c1c1c" stroke-width="1.04" fill="none" />
<path d="M573.4,336.3 L581,336.3 L581,359.6 L573.4,359.6 M579,336.3 L579,359.6 M576,352 L581,352 M576,357 L581,357" stroke="#1c1c1c" stroke-width="1.04" fill="none" />
<line x1="573.4" y1="322.2" x2="594" y2="322.2" stroke="#1c1c1c" stroke-width="1.17" />
<line x1="573.4" y1="391" x2="594" y2="391" stroke="#1c1c1c" stroke-width="1.17" />
<path d="M585.8,322.2 L585.8,391 M589.2,335.6 L589.2,378.2" stroke="#1c1c1c" stroke-width="1.17" fill="none" />
<defs><pattern id="hat" width="2.2" height="2.2" patternUnits="userSpaceOnUse" patternTransform="rotate(-55)"><line x1="0" y1="1" x2="2.2" y2="1" stroke="#555" stroke-width="0.7"/></pattern></defs>
<path d="M586.6,322.6 L593.4,322.6 L593.4,335.4 L590,335.4 L590,341 L586.6,338 Z" stroke="#444" stroke-width="0.91" fill="url(#hat)" />
<path d="M586.6,390.6 L593.4,390.6 L593.4,378.4 L590,378.4 L590,372.6 L586.6,375.6 Z" stroke="#444" stroke-width="0.91" fill="url(#hat)" />
<line x1="440" y1="356.7" x2="596" y2="356.7" stroke="#444" stroke-width="0.78" />
<circle cx="140.2" cy="327.7" r="9.8" stroke="#0e4f9c" stroke-width="1.90" fill="#fff" />
<circle cx="140.2" cy="327.7" r="7.1" stroke="#08204a" stroke-width="3.60" fill="#08204a" />
<circle cx="140.2" cy="327.7" r="5.3" stroke="none" stroke-width="0.00" fill="#1d83da" />
<path d="M135.6,327.7 L144.79999999999998,327.7 M140.2,323.09999999999997 L140.2,332.3" stroke="#0b1f45" stroke-width="0.60" fill="none" />
<circle cx="144.75" cy="387.3" r="12.6" stroke="#444" stroke-width="0.70" fill="#fff" />
<circle cx="144.75" cy="387.3" r="10.0" stroke="#10243f" stroke-width="2.40" fill="#52bbea" />
<circle cx="144.75" cy="387.3" r="11.3" stroke="#2a6fae" stroke-width="0.70" fill="none" />
<path d="M136.25,387.3 L153.25,387.3 M144.75,378.8 L144.75,395.8" stroke="#10243f" stroke-width="0.70" fill="none" />
<rect x="68.3" y="256.3" width="141.8" height="11.8" rx="0" stroke="none" stroke-width="0.00" fill="#0e70c4" />
<rect x="92.3" y="274.2" width="103.8" height="11.8" rx="0" stroke="none" stroke-width="0.00" fill="#0e70c4" />
<line x1="97.6" y1="221.6" x2="97.6" y2="397.5" stroke="#1c1c1c" stroke-width="1.08" />
<line x1="331.4" y1="222" x2="331.4" y2="356.5" stroke="#1c1c1c" stroke-width="1.08" />
<line x1="97.6" y1="223.4" x2="331.4" y2="223.4" stroke="#1c1c1c" stroke-width="1.08" />
<polygon points="97.60,223.40 104.60,221.95 104.60,224.85" fill="#1c1c1c"/>
<polygon points="331.40,223.40 324.40,221.95 324.40,224.85" fill="#1c1c1c"/>
<line x1="97.6" y1="248.4" x2="331.4" y2="248.4" stroke="#1c1c1c" stroke-width="1.08" />
<polygon points="97.60,248.40 104.60,246.95 104.60,249.85" fill="#1c1c1c"/>
<polygon points="258.60,248.40 251.60,246.95 251.60,249.85" fill="#1c1c1c"/>
<polygon points="258.60,248.40 265.60,246.95 265.60,249.85" fill="#1c1c1c"/>
<polygon points="331.40,248.40 324.40,246.95 324.40,249.85" fill="#1c1c1c"/>
<line x1="258.6" y1="246" x2="258.6" y2="451" stroke="#1c1c1c" stroke-width="1.08" />
<text x="184" y="220.6" font-size="8.3" fill="#1c1c1c" text-anchor="start" font-weight="bold" textLength="53" lengthAdjust="spacing" >537 [21.16&quot;]</text>
<text x="172" y="245.8" font-size="8.3" fill="#1c1c1c" text-anchor="start" font-weight="bold" textLength="54.5" lengthAdjust="spacing" >370 [14.59&quot;]</text>
<text x="265.6" y="246" font-size="8.3" fill="#1c1c1c" text-anchor="start" font-weight="bold" textLength="49" lengthAdjust="spacing" >167 [6.57&quot;]</text>
<text x="275" y="292" font-size="8.3" fill="#1c1c1c" text-anchor="start" font-weight="bold" textLength="43.6" lengthAdjust="spacing" >12 [0.47&quot;]</text>
<line x1="243" y1="294" x2="318.6" y2="294" stroke="#1c1c1c" stroke-width="1.08" />
<line x1="256.6" y1="291" x2="256.6" y2="330" stroke="#1c1c1c" stroke-width="0.81" />
<line x1="261" y1="291" x2="261" y2="330" stroke="#1c1c1c" stroke-width="0.81" />
<polygon points="256.60,294.00 251.10,292.90 251.10,295.10" fill="#1c1c1c"/>
<polygon points="261.00,294.00 266.50,292.90 266.50,295.10" fill="#1c1c1c"/>
<text x="178" y="294.2" font-size="8.3" fill="#1c1c1c" text-anchor="start" font-weight="bold" textLength="47" lengthAdjust="spacing" >N°6 M10x30</text>
<path d="M225,291.5 L232,291.5 L257,323" stroke="#1c1c1c" stroke-width="0.94" fill="none" />
<line x1="219" y1="371.6" x2="410" y2="299" stroke="#1c1c1c" stroke-width="0.94" />
<text x="354.5" y="316.5" font-size="8.3" fill="#1c1c1c" text-anchor="start" font-weight="bold" textLength="58" lengthAdjust="spacing" transform="rotate(-20.5 354.5 316.5)" >ø136 [ø5.35&quot;]</text>
<line x1="68.8" y1="356.7" x2="347" y2="356.7" stroke="#555" stroke-width="0.81" />
<line x1="52" y1="302.8" x2="52" y2="430" stroke="#1c1c1c" stroke-width="1.08" />
<line x1="68.8" y1="302.8" x2="68.8" y2="430" stroke="#1c1c1c" stroke-width="1.08" />
<line x1="50.8" y1="302.8" x2="112" y2="302.8" stroke="#1c1c1c" stroke-width="1.08" />
<line x1="50.8" y1="430" x2="173" y2="430" stroke="#1c1c1c" stroke-width="1.08" />
<polygon points="52.00,302.80 50.55,309.80 53.45,309.80" fill="#1c1c1c"/>
<polygon points="52.00,430.00 50.55,423.00 53.45,423.00" fill="#1c1c1c"/>
<polygon points="68.80,302.80 67.35,309.80 70.25,309.80" fill="#1c1c1c"/>
<polygon points="68.80,356.70 67.35,349.70 70.25,349.70" fill="#1c1c1c"/>
<polygon points="68.80,356.70 67.35,363.70 70.25,363.70" fill="#1c1c1c"/>
<polygon points="68.80,430.00 67.35,423.00 70.25,423.00" fill="#1c1c1c"/>
<text x="49.6" y="401" font-size="8.3" fill="#1c1c1c" text-anchor="start" font-weight="bold" textLength="51.5" lengthAdjust="spacing" transform="rotate(-90 49.6 401)" >294 [11.57&quot;]</text>
<text x="67" y="353.6" font-size="8.3" fill="#1c1c1c" text-anchor="start" font-weight="bold" textLength="48" lengthAdjust="spacing" transform="rotate(-90 67 353.6)" >125 [4.92&quot;]</text>
<text x="67" y="424.3" font-size="8.3" fill="#1c1c1c" text-anchor="start" font-weight="bold" textLength="52" lengthAdjust="spacing" transform="rotate(-90 67 424.3)" >169 [6.65&quot;]</text>
<text x="84" y="265.8" font-size="8.3" fill="#0a1d55" text-anchor="start" font-weight="bold" textLength="113" lengthAdjust="spacing" >OUT G 1&quot; (CX 1515–1715)</text>
<text x="92.6" y="283.8" font-size="8.3" fill="#0a1d55" text-anchor="start" font-weight="bold" textLength="97.5" lengthAdjust="spacing" >OUT G 3/4&quot; (CX 1025)</text>
<line x1="120" y1="268.6" x2="134" y2="268.6" stroke="#1c1c1c" stroke-width="1.08" />
<line x1="148" y1="268.6" x2="161" y2="268.6" stroke="#1c1c1c" stroke-width="1.08" />
<polygon points="133.80,268.60 129.30,267.50 129.30,269.70" fill="#1c1c1c"/>
<polygon points="148.00,268.60 152.50,267.50 152.50,269.70" fill="#1c1c1c"/>
<line x1="120" y1="286.2" x2="134" y2="286.2" stroke="#1c1c1c" stroke-width="1.08" />
<line x1="148" y1="286.2" x2="161" y2="286.2" stroke="#1c1c1c" stroke-width="1.08" />
<polygon points="133.80,286.20 129.30,285.10 129.30,287.30" fill="#1c1c1c"/>
<polygon points="148.00,286.20 152.50,285.10 152.50,287.30" fill="#1c1c1c"/>
<line x1="133.8" y1="268" x2="133.8" y2="320" stroke="#1c1c1c" stroke-width="1.08" />
<line x1="148" y1="268" x2="148" y2="320" stroke="#1c1c1c" stroke-width="1.08" />
<line x1="140.6" y1="289.6" x2="140.6" y2="334" stroke="#1c1c1c" stroke-width="0.81" />
<rect x="72.8" y="407.5" width="60.4" height="12.6" rx="0" stroke="none" stroke-width="0.00" fill="#62c8f0" />
<text x="75.6" y="417.4" font-size="8.3" fill="#0b2350" text-anchor="start" font-weight="bold" textLength="52" lengthAdjust="spacing" >IN G 1&quot; 1/2</text>
<line x1="133" y1="420" x2="155" y2="420" stroke="#1c1c1c" stroke-width="1.08" />
<line x1="136" y1="395" x2="136" y2="421.5" stroke="#1c1c1c" stroke-width="0.81" />
<line x1="145" y1="398" x2="145" y2="421.5" stroke="#1c1c1c" stroke-width="0.81" />
<line x1="154.4" y1="395" x2="154.4" y2="421.5" stroke="#1c1c1c" stroke-width="0.81" />
<polygon points="136.00,420.00 140.20,419.00 140.20,421.00" fill="#1c1c1c"/>
<polygon points="145.00,420.00 140.80,419.00 140.80,421.00" fill="#1c1c1c"/>
<polygon points="145.00,420.00 149.20,419.00 149.20,421.00" fill="#1c1c1c"/>
<polygon points="154.40,420.00 150.20,419.00 150.20,421.00" fill="#1c1c1c"/>
<line x1="173" y1="428" x2="173" y2="430" stroke="#1c1c1c" stroke-width="1.08" />
<line x1="175.6" y1="428" x2="175.6" y2="485.6" stroke="#1c1c1c" stroke-width="1.08" />
<line x1="181" y1="428" x2="181" y2="467" stroke="#1c1c1c" stroke-width="1.08" />
<line x1="199" y1="428" x2="199" y2="486" stroke="#1c1c1c" stroke-width="1.08" />
<line x1="234.4" y1="425" x2="234.4" y2="467" stroke="#1c1c1c" stroke-width="1.08" />
<line x1="266" y1="428" x2="266" y2="486" stroke="#1c1c1c" stroke-width="1.08" />
<line x1="283.6" y1="400" x2="283.6" y2="467" stroke="#1c1c1c" stroke-width="1.08" />
<line x1="289" y1="428" x2="289" y2="486" stroke="#1c1c1c" stroke-width="1.08" />
<text x="221" y="446" font-size="8.3" fill="#1c1c1c" text-anchor="start" font-weight="bold" textLength="51.4" lengthAdjust="spacing" >55.5 [2.19&quot;]</text>
<line x1="234.4" y1="449.4" x2="262" y2="449.4" stroke="#1c1c1c" stroke-width="1.08" />
<polygon points="234.40,449.40 239.90,448.30 239.90,450.50" fill="#1c1c1c"/>
<polygon points="258.60,449.40 253.10,448.30 253.10,450.50" fill="#1c1c1c"/>
<line x1="125.6" y1="467" x2="340" y2="467" stroke="#1c1c1c" stroke-width="1.08" />
<polygon points="181.00,467.00 186.50,465.90 186.50,468.10" fill="#1c1c1c"/>
<polygon points="234.40,467.00 228.90,465.90 228.90,468.10" fill="#1c1c1c"/>
<polygon points="234.40,467.00 239.90,465.90 239.90,468.10" fill="#1c1c1c"/>
<polygon points="283.60,467.00 278.10,465.90 278.10,468.10" fill="#1c1c1c"/>
<text x="125.6" y="464.8" font-size="8.3" fill="#1c1c1c" text-anchor="start" font-weight="bold" textLength="47.4" lengthAdjust="spacing" >124 [4.88&quot;]</text>
<text x="291" y="464.8" font-size="8.3" fill="#1c1c1c" text-anchor="start" font-weight="bold" textLength="48.6" lengthAdjust="spacing" >112 [4.41&quot;]</text>
<line x1="114" y1="485.4" x2="350" y2="485.4" stroke="#1c1c1c" stroke-width="1.08" />
<polygon points="175.60,485.40 181.10,484.30 181.10,486.50" fill="#1c1c1c"/>
<polygon points="199.00,485.40 193.50,484.30 193.50,486.50" fill="#1c1c1c"/>
<polygon points="199.00,485.40 204.50,484.30 204.50,486.50" fill="#1c1c1c"/>
<polygon points="266.00,485.40 260.50,484.30 260.50,486.50" fill="#1c1c1c"/>
<polygon points="266.00,485.40 271.50,484.30 271.50,486.50" fill="#1c1c1c"/>
<polygon points="289.00,485.40 283.50,484.30 283.50,486.50" fill="#1c1c1c"/>
<text x="115" y="483" font-size="8.3" fill="#1c1c1c" text-anchor="start" font-weight="bold" textLength="44" lengthAdjust="spacing" >55 [2.17&quot;]</text>
<text x="211.6" y="483" font-size="8.3" fill="#1c1c1c" text-anchor="start" font-weight="bold" textLength="50.8" lengthAdjust="spacing" >153 [6.02&quot;]</text>
<text x="305" y="483" font-size="8.3" fill="#1c1c1c" text-anchor="start" font-weight="bold" textLength="43" lengthAdjust="spacing" >55 [2.17&quot;]</text>
<line x1="429" y1="223" x2="429" y2="391" stroke="#1c1c1c" stroke-width="1.08" />
<line x1="631" y1="223" x2="631" y2="365.6" stroke="#1c1c1c" stroke-width="1.08" />
<line x1="429" y1="224.4" x2="631" y2="224.4" stroke="#1c1c1c" stroke-width="1.08" />
<polygon points="429.00,224.40 436.00,222.95 436.00,225.85" fill="#1c1c1c"/>
<polygon points="631.00,224.40 624.00,222.95 624.00,225.85" fill="#1c1c1c"/>
<line x1="429" y1="248.4" x2="631" y2="248.4" stroke="#1c1c1c" stroke-width="1.08" />
<polygon points="429.00,248.40 436.00,246.95 436.00,249.85" fill="#1c1c1c"/>
<polygon points="511.60,248.40 504.60,246.95 504.60,249.85" fill="#1c1c1c"/>
<polygon points="511.60,248.40 518.60,246.95 518.60,249.85" fill="#1c1c1c"/>
<polygon points="631.00,248.40 624.00,246.95 624.00,249.85" fill="#1c1c1c"/>
<line x1="511.6" y1="247" x2="511.6" y2="384" stroke="#1c1c1c" stroke-width="1.08" />
<text x="487" y="221.6" font-size="8.3" fill="#1c1c1c" text-anchor="start" font-weight="bold" textLength="53.6" lengthAdjust="spacing" >465 [18.31&quot;]</text>
<text x="451" y="245.6" font-size="8.3" fill="#1c1c1c" text-anchor="start" font-weight="bold" textLength="48.6" lengthAdjust="spacing" >190 [7.48&quot;]</text>
<text x="546" y="245.6" font-size="8.3" fill="#1c1c1c" text-anchor="start" font-weight="bold" textLength="54" lengthAdjust="spacing" >275 [10.83&quot;]</text>
<text x="590.6" y="287.6" font-size="8.3" fill="#1c1c1c" text-anchor="start" font-weight="bold" textLength="43" lengthAdjust="spacing" >85 [3.35&quot;]</text>
<line x1="593.6" y1="289.5" x2="631" y2="289.5" stroke="#1c1c1c" stroke-width="1.08" />
<polygon points="593.60,289.50 599.10,288.40 599.10,290.60" fill="#1c1c1c"/>
<polygon points="631.00,289.50 625.50,288.40 625.50,290.60" fill="#1c1c1c"/>
<text x="591.6" y="303" font-size="8.3" fill="#1c1c1c" text-anchor="start" font-weight="bold" textLength="44" lengthAdjust="spacing" >80 [3.15&quot;]</text>
<line x1="596.4" y1="305.6" x2="631" y2="305.6" stroke="#1c1c1c" stroke-width="1.08" />
<polygon points="596.40,305.60 601.90,304.50 601.90,306.70" fill="#1c1c1c"/>
<polygon points="631.00,305.60 625.50,304.50 625.50,306.70" fill="#1c1c1c"/>
<line x1="593.6" y1="287" x2="593.6" y2="407" stroke="#1c1c1c" stroke-width="1.08" />
<line x1="596.4" y1="303" x2="596.4" y2="366" stroke="#1c1c1c" stroke-width="1.08" />
<line x1="590" y1="335" x2="692" y2="335" stroke="#1c1c1c" stroke-width="1.08" />
<line x1="590" y1="378.4" x2="692" y2="378.4" stroke="#1c1c1c" stroke-width="1.08" />
<line x1="593" y1="344.8" x2="680" y2="344.8" stroke="#1c1c1c" stroke-width="1.08" />
<line x1="593" y1="368.8" x2="680" y2="368.8" stroke="#1c1c1c" stroke-width="1.08" />
<line x1="596.4" y1="348" x2="665.6" y2="348" stroke="#1c1c1c" stroke-width="1.08" />
<line x1="596.4" y1="365.6" x2="665.6" y2="365.6" stroke="#1c1c1c" stroke-width="1.08" />
<rect x="595.4" y="348.4" width="33.8" height="16.8" rx="0" stroke="none" stroke-width="0.00" fill="#e9e220" />
<line x1="597.7" y1="346.6" x2="627.3" y2="346.6" stroke="#8a8a8a" stroke-width="1.76" />
<line x1="570" y1="356.7" x2="638" y2="356.7" stroke="#555" stroke-width="0.81" />
<line x1="665.4" y1="348" x2="665.4" y2="424.7" stroke="#1c1c1c" stroke-width="1.08" />
<polygon points="665.40,348.00 664.30,353.50 666.50,353.50" fill="#1c1c1c"/>
<polygon points="665.40,365.60 664.30,360.10 666.50,360.10" fill="#1c1c1c"/>
<line x1="680" y1="286.8" x2="680" y2="368.8" stroke="#1c1c1c" stroke-width="1.08" />
<polygon points="680.00,344.80 678.90,350.30 681.10,350.30" fill="#1c1c1c"/>
<polygon points="680.00,368.80 678.90,363.30 681.10,363.30" fill="#1c1c1c"/>
<line x1="692" y1="335" x2="692" y2="454.6" stroke="#1c1c1c" stroke-width="1.08" />
<polygon points="692.00,335.00 690.90,340.50 693.10,340.50" fill="#1c1c1c"/>
<polygon points="692.00,378.40 690.90,372.90 693.10,372.90" fill="#1c1c1c"/>
<text x="678.2" y="331" font-size="8.3" fill="#1c1c1c" text-anchor="start" font-weight="bold" textLength="42.5" lengthAdjust="spacing" transform="rotate(-90 678.2 331)" >55 [2.17&quot;]</text>
<rect x="650.4" y="371.2" width="15.2" height="55.8" rx="0" stroke="none" stroke-width="0.00" fill="#f3ec2a" />
<text x="663.6" y="420.8" font-size="8.3" fill="#1c1c1c" text-anchor="start" font-weight="bold" textLength="47.6" lengthAdjust="spacing" transform="rotate(-90 663.6 420.8)" >ø40 [1.57&quot;]</text>
<text x="690" y="452.4" font-size="8.3" fill="#1c1c1c" text-anchor="start" font-weight="bold" textLength="65.6" lengthAdjust="spacing" transform="rotate(-90 690 452.4)" >ø100 [3.94&quot;] H7</text>
<text x="607.5" y="403.8" font-size="8.3" fill="#1c1c1c" text-anchor="start" font-weight="bold" textLength="39" lengthAdjust="spacing" >9 [0.35&quot;]</text>
<line x1="577" y1="406" x2="647" y2="406" stroke="#1c1c1c" stroke-width="1.08" />
<line x1="590.4" y1="390" x2="590.4" y2="407" stroke="#1c1c1c" stroke-width="1.08" />
<polygon points="590.40,406.00 584.90,404.90 584.90,407.10" fill="#1c1c1c"/>
<polygon points="593.60,406.00 599.10,404.90 599.10,407.10" fill="#1c1c1c"/>
<text x="596" y="439.4" font-size="8.3" fill="#1c1c1c" text-anchor="start" font-weight="bold" textLength="44" lengthAdjust="spacing" >15 [0.59&quot;]</text>
<line x1="564" y1="441.8" x2="640" y2="441.8" stroke="#1c1c1c" stroke-width="1.08" />
<line x1="577" y1="427" x2="577" y2="442.5" stroke="#1c1c1c" stroke-width="1.08" />
<line x1="583.6" y1="427" x2="583.6" y2="442.5" stroke="#1c1c1c" stroke-width="1.08" />
<polygon points="577.00,441.80 571.50,440.70 571.50,442.90" fill="#1c1c1c"/>
<polygon points="583.60,441.80 589.10,440.70 589.10,442.90" fill="#1c1c1c"/>
<line x1="412.4" y1="356.7" x2="412.4" y2="480" stroke="#1c1c1c" stroke-width="1.08" />
<line x1="412" y1="356.7" x2="450" y2="356.7" stroke="#1c1c1c" stroke-width="0.94" />
<line x1="412.4" y1="411" x2="458" y2="411" stroke="#1c1c1c" stroke-width="1.08" />
<line x1="412.4" y1="429.6" x2="435" y2="429.6" stroke="#1c1c1c" stroke-width="1.08" />
<polygon points="412.40,356.70 411.30,362.20 413.50,362.20" fill="#1c1c1c"/>
<polygon points="412.40,411.00 411.30,405.50 413.50,405.50" fill="#1c1c1c"/>
<polygon points="412.40,411.00 411.30,416.50 413.50,416.50" fill="#1c1c1c"/>
<polygon points="412.40,429.60 411.30,424.10 413.50,424.10" fill="#1c1c1c"/>
<text x="409.6" y="409.5" font-size="8.3" fill="#1c1c1c" text-anchor="start" font-weight="bold" textLength="47" lengthAdjust="spacing" transform="rotate(-90 409.6 409.5)" >125 [4.92&quot;]</text>
<text x="409.6" y="480.4" font-size="8.3" fill="#1c1c1c" text-anchor="start" font-weight="bold" textLength="42.5" lengthAdjust="spacing" transform="rotate(-90 409.6 480.4)" >44 [1.73&quot;]</text>
<line x1="465.6" y1="409" x2="465.6" y2="468" stroke="#1c1c1c" stroke-width="1.08" />
<line x1="557" y1="411" x2="557" y2="468" stroke="#1c1c1c" stroke-width="1.08" />
<line x1="465.6" y1="466.6" x2="557" y2="466.6" stroke="#1c1c1c" stroke-width="1.08" />
<polygon points="465.60,466.60 472.60,465.15 472.60,468.05" fill="#1c1c1c"/>
<polygon points="557.00,466.60 550.00,465.15 550.00,468.05" fill="#1c1c1c"/>
<line x1="443" y1="425" x2="443" y2="484" stroke="#1c1c1c" stroke-width="1.08" />
<line x1="580" y1="426" x2="580" y2="484" stroke="#1c1c1c" stroke-width="1.08" />
<line x1="443" y1="483" x2="580" y2="483" stroke="#1c1c1c" stroke-width="1.08" />
<polygon points="443.00,483.00 450.00,481.55 450.00,484.45" fill="#1c1c1c"/>
<polygon points="580.00,483.00 573.00,481.55 573.00,484.45" fill="#1c1c1c"/>
<text x="492.4" y="464" font-size="8.3" fill="#1c1c1c" text-anchor="start" font-weight="bold" textLength="48.6" lengthAdjust="spacing" >212 [8.35&quot;]</text>
<text x="484.4" y="480.4" font-size="8.3" fill="#1c1c1c" text-anchor="start" font-weight="bold" textLength="53.6" lengthAdjust="spacing" >316 [12.44&quot;]</text>
<text x="505.4" y="445" font-size="8.3" fill="#1c1c1c" text-anchor="start" font-weight="bold" textLength="38.6" lengthAdjust="spacing" >N° 6 M14</text>
<path d="M505,442 L498,442 L470,419" stroke="#1c1c1c" stroke-width="0.94" fill="none" />
<polygon points="470,419 475.3,421.6 473.6,423.6" fill="#1c1c1c"/>
</svg>
</body></html>
